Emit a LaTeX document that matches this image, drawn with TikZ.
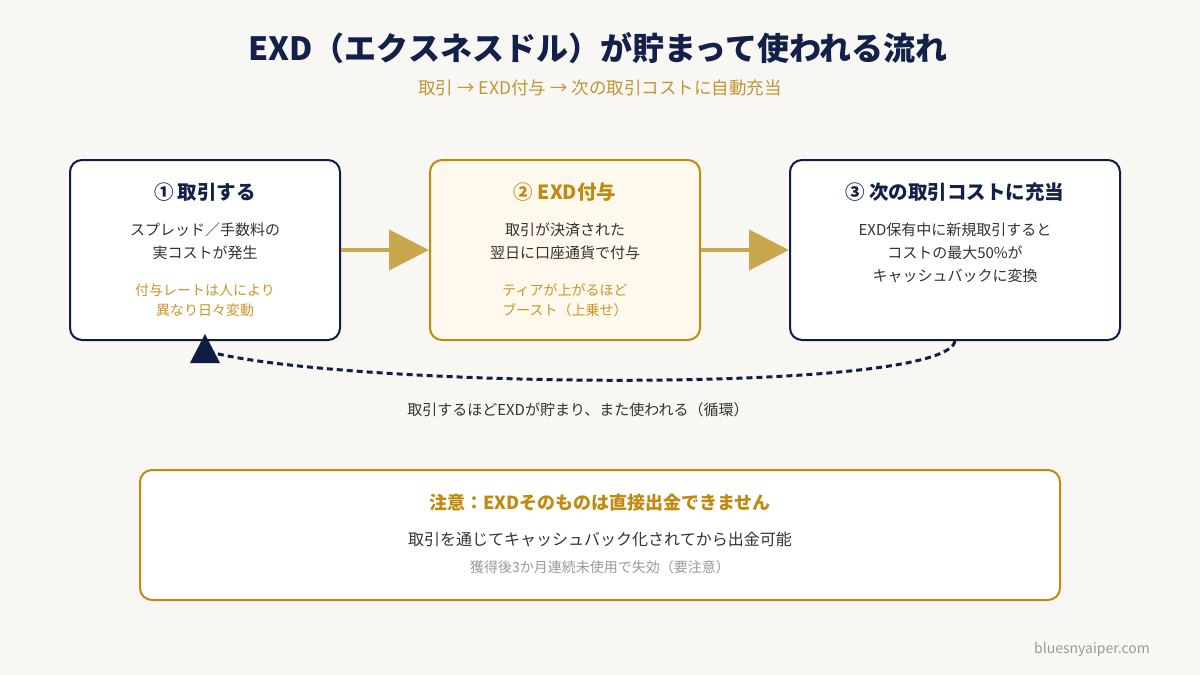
\documentclass[tikz,border=0pt]{standalone}
\usepackage{fontspec}
\setmainfont{Noto Sans CJK JP}
\usetikzlibrary{arrows.meta}
\definecolor{bg}{HTML}{F9F7F3}
\definecolor{navy}{HTML}{13214A}
\definecolor{boxnavy}{HTML}{0F1E42}
\definecolor{golddark}{HTML}{C08A10}
\definecolor{goldnote}{HTML}{C9962A}
\definecolor{goldsub}{HTML}{C29434}
\definecolor{arrowgold}{HTML}{C9A74D}
\definecolor{creamfill}{HTML}{FFF8EC}
\definecolor{bodytext}{HTML}{333333}
\definecolor{graytext}{HTML}{9A9A9A}
\tikzset{
  stepbox/.style={draw=boxnavy, line width=2pt, rounded corners=12pt, fill=white, minimum height=180pt, inner sep=0pt},
  goldbox/.style={draw=golddark, line width=2pt, rounded corners=12pt, fill=creamfill, minimum height=180pt, inner sep=0pt},
  notebox/.style={draw=golddark, line width=2pt, rounded corners=12pt, fill=white, inner sep=0pt},
  boxtitle/.style={font=\fontsize{19.5}{23}\selectfont\bfseries, text=navy, inner sep=0pt},
  bodytxt/.style={font=\fontsize{15}{23}\selectfont, text=bodytext, align=center, inner sep=0pt},
  notetxt/.style={font=\fontsize{14}{20}\selectfont, text=goldnote, align=center, inner sep=0pt},
  garrow/.style={draw=arrowgold, line width=4pt, -{Triangle[length=40pt,width=40pt]}},
  cycdash/.style={draw=boxnavy, line width=3pt, dash pattern=on 6pt off 4pt},
  cychead/.style={fill=boxnavy}
}
\begin{document}
\begin{tikzpicture}[x=1pt,y=-1pt]
\useasboundingbox[fill=bg] (0,0) rectangle (1200,675);
% title
\node[font=\fontsize{32}{36}\selectfont\bfseries, text=navy, inner sep=0pt] (title) at (598,48) {EXD（エクスネスドル）が貯まって使われる流れ};
\node[font=\fontsize{17.5}{20}\selectfont, text=goldsub, inner sep=0pt] (subtitle) at (600,88) {取引 → EXD付与 → 次の取引コストに自動充当};
% boxes
\node[stepbox, minimum width=270pt] (b1) at (205,250) {};
\node[goldbox, minimum width=270pt] (b2) at (565,250) {};
\node[stepbox, minimum width=330pt] (b3) at (955,250) {};
% box 1 text
\node[boxtitle] (t1) at (205,192.5) {① 取引する};
\node[bodytxt] (d1) at (205,241) {スプレッド／手数料の\\実コストが発生};
\node[notetxt] (n1) at (205,300) {付与レートは人により\\異なり日々変動};
% box 2 text
\node[boxtitle, text=golddark] (t2) at (565,192.5) {② EXD付与};
\node[bodytxt] (d2) at (565,241) {取引が決済された\\翌日に口座通貨で付与};
\node[notetxt] (n2) at (565,300) {ティアが上がるほど\\ブースト（上乗せ）};
% box 3 text
\node[boxtitle] (t3) at (955,192.5) {③ 次の取引コストに充当};
\node[bodytxt] (d3) at (955,252.5) {EXD保有中に新規取引すると\\コストの最大50\%が\\キャッシュバックに変換};
% arrows
\draw[garrow] (b1.east) -- (b2.west);
\draw[garrow] (b2.east) -- (b3.west);
\coordinate (cyend) at ([xshift=5pt,yshift=-11pt]b1.south);
\coordinate (cytip) at ([yshift=7pt]b1.south);
\draw[cycdash] (b3.south) .. controls (945,395) and (350,388) .. (cyend);
\fill[cychead] (cytip) -- ++(-15,29) -- ++(30,0) -- cycle;
\node[font=\fontsize{15}{18}\selectfont, text=bodytext, inner sep=0pt] (cyc) at (578,410) {取引するほどEXDが貯まり、また使われる（循環）};
% note box
\node[notebox, minimum width=920pt, minimum height=130pt] (nb) at (600,535) {};
\node[font=\fontsize{18}{22}\selectfont\bfseries, text=golddark, inner sep=0pt] (nbt) at (600,503) {注意：EXDそのものは直接出金できません};
\node[font=\fontsize{16}{20}\selectfont, text=bodytext, inner sep=0pt] (nbd) at (600,539) {取引を通じてキャッシュバック化されてから出金可能};
\node[font=\fontsize{14}{18}\selectfont, text=graytext, inner sep=0pt] (nbg) at (600,567) {獲得後3か月連続未使用で失効（要注意）};
% footer
\node[font=\fontsize{14}{16}\selectfont, text=graytext, inner sep=0pt, anchor=east] (web) at (1150,650) {bluesnyaiper.com};
\end{tikzpicture}
\end{document}
